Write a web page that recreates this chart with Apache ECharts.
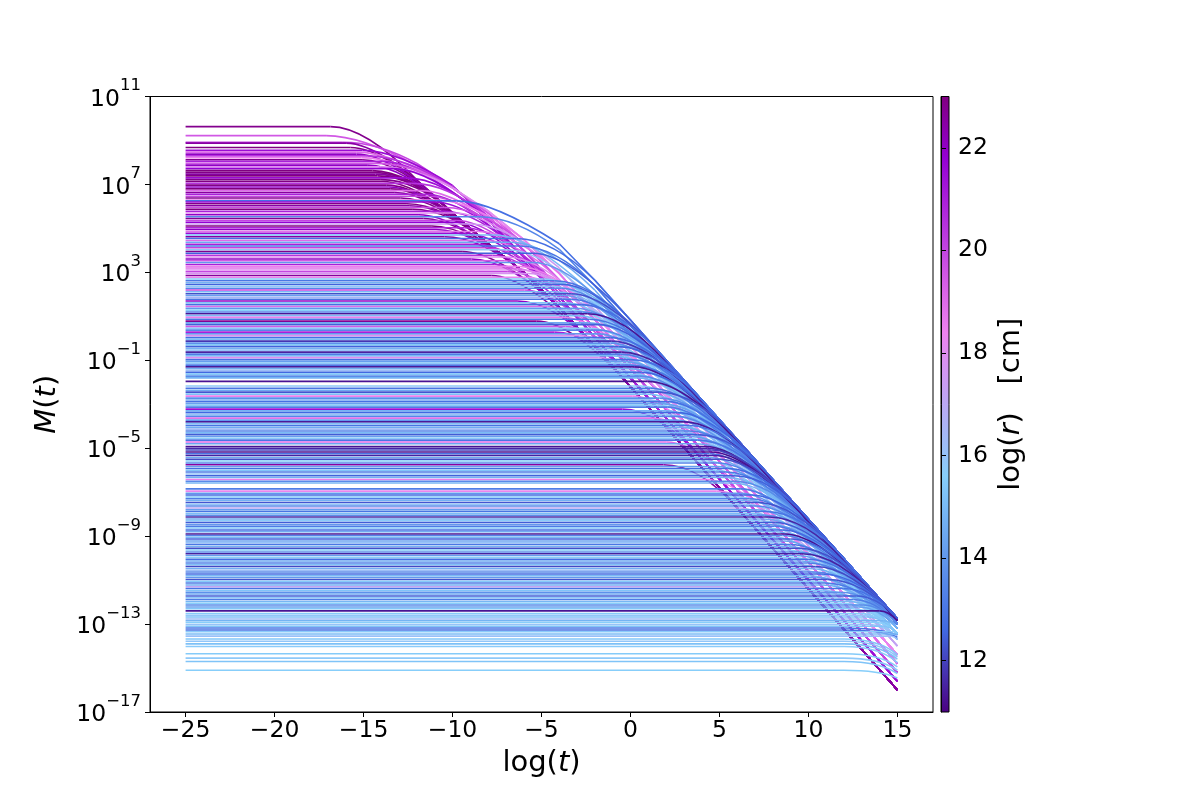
<!DOCTYPE html>
<html lang="en">

<head>
    <meta charset="UTF-8">
    <title>M(t) vs log(t)</title>
    <script src="https://cdn.jsdelivr.net/npm/echarts@6.0.0/dist/echarts.min.js"></script>
    <style>
        html, body { margin: 0; padding: 0; background: #fff; }
        #chart { width: 1200px; height: 800px; }
    </style>
</head>

<body>
    <div id="chart"></div>

    <script>
        // tick labels
        const xTicks = [-25, -20, -15, -10, -5, 0, 5, 10, 15];
        const yTicks = [-17, -13, -9, -5, -1, 3, 7, 11]; // log10 M
        const rTicks = [12, 14, 16, 18, 20, 22];

        const tStart = -25;
        const tEnd = 15;
        const tailStartX = 12;
        const tailBendX = 14;
        const kneeLead = 2; // longest stretch of plateau that is rounded off before a knee

        // decline tracks, one per unit of log(r), values are log10 M at trackX
        const trackX = [-16, -14, -12, -10, -8, -6, -4, -2, 0, 2, 4, 6, 8, 10, 12, 14, 15];
        const trackR11 = [9.1, 8.4, 7.7, 7.0, 6.3, 5.4, 4.2, 2.54, 0.73, -1.09, -2.9, -4.7, -6.52, -8.33, -10.13, -11.95, -12.85];
        const trackR12 = [9.2, 8.5, 7.8, 7.1, 6.35, 5.5, 4.3, 2.64, 0.83, -0.99, -2.8, -4.6, -6.42, -8.23, -10.03, -11.85, -12.75];
        const trackR13 = [9.05, 8.35, 7.65, 6.95, 6.2, 5.3, 4.05, 2.39, 0.58, -1.24, -3.05, -4.85, -6.67, -8.48, -10.28, -12.1, -13.0];
        const trackR14 = [8.95, 8.25, 7.55, 6.85, 6.1, 5.15, 3.9, 2.19, 0.38, -1.44, -3.25, -5.05, -6.87, -8.68, -10.48, -12.3, -13.2];
        const trackR15 = [8.85, 8.15, 7.45, 6.75, 5.95, 4.95, 3.65, 1.94, 0.13, -1.69, -3.5, -5.3, -7.12, -8.93, -10.73, -12.55, -13.45];
        const trackR16 = [8.8, 8.1, 7.4, 6.65, 5.8, 4.75, 3.4, 1.69, -0.12, -1.94, -3.75, -5.55, -7.37, -9.18, -10.98, -12.8, -13.7];
        const trackR17 = [8.9, 8.2, 7.5, 6.7, 5.8, 4.65, 3.2, 1.47, -0.35, -2.17, -3.99, -5.81, -7.63, -9.45, -11.27, -13.09, -14.0];
        const trackR18 = [9.4, 8.6, 7.75, 6.85, 5.8, 4.5, 2.95, 1.16, -0.68, -2.51, -4.34, -6.17, -8.0, -9.83, -11.66, -13.49, -14.4];
        const trackR19 = [9.6, 8.75, 7.85, 6.85, 5.7, 4.3, 2.65, 0.84, -1.0, -2.84, -4.68, -6.52, -8.36, -10.2, -12.04, -13.88, -14.8];
        const trackR20 = [9.7, 8.85, 7.95, 6.9, 5.55, 4.0, 2.25, 0.44, -1.4, -3.24, -5.08, -6.92, -8.76, -10.6, -12.44, -14.28, -15.2];
        const trackR21 = [9.8, 8.95, 8.1, 6.95, 5.4, 3.7, 1.88, 0.04, -1.8, -3.64, -5.48, -7.32, -9.16, -11.0, -12.84, -14.68, -15.6];
        const trackR22 = [10.6, 8.9, 7.2, 5.7, 4.3, 3.0, 1.4, -0.36, -2.2, -4.04, -5.88, -7.72, -9.56, -11.4, -13.24, -15.08, -16.0];
        const tracks = [trackR11, trackR12, trackR13, trackR14, trackR15, trackR16,
            trackR17, trackR18, trackR19, trackR20, trackR21, trackR22];

        // curves: [log10 M plateau, log r] (optional third value: log10 M at t = 1e15 for the low ones)
        const curvesUpper = [
            [9.63, 22.8], [9.22, 19.5], [8.92, 20], [8.88, 22.5], [8.68, 23],
            [8.55, 21.5], [8.47, 19], [8.38, 22], [8.3, 20.5], [8.22, 18.5], [8.12, 22.8], [8.05, 21], [7.96, 19.5],
            [7.88, 22], [7.8, 18], [7.72, 21.8], [7.63, 23],
            [7.55, 22.9], [7.47, 22.5], [7.39, 23], [7.3, 21.5], [7.22, 22.8], [7.13, 23], [7.05, 20.5], [6.97, 22.9],
            [6.88, 22], [6.8, 23], [6.72, 19], [6.63, 22.6], [6.55, 21],
            [6.46, 20], [6.38, 22.8], [6.29, 18.5], [6.25, 12.8], [6.2, 21.5], [6.12, 22.9], [6.03, 22.5], [5.95, 19.8],
            [5.87, 23], [5.78, 21], [5.7, 18], [5.62, 22],
            [5.53, 13.5], [5.45, 22.7], [5.36, 20], [5.28, 21.8], [5.2, 17.5], [5.11, 23], [5.03, 20.8], [4.95, 22],
            [4.86, 18.8], [4.78, 21.5],
            [4.7, 15], [4.62, 22.5], [4.54, 12.8], [4.45, 19], [4.37, 14.5], [4.28, 21], [4.2, 13], [4.12, 20],
            [4.03, 16], [3.95, 22.8], [3.87, 12.5],
            [3.78, 20.5], [3.7, 18], [3.61, 22], [3.53, 19.5], [3.45, 14], [3.36, 21], [3.28, 18.5], [3.2, 19],
            [3.11, 18], [3.03, 20], [2.95, 17.8], [2.86, 22.6], [2.78, 18.3]
        ];
        const curvesMiddle = [
            [2.7, 15.5], [2.62, 13], [2.53, 14.8], [2.45, 12.5], [2.37, 15.8], [2.28, 13.5], [2.2, 20], [2.12, 15],
            [2.03, 12.2], [1.95, 14.2], [1.87, 16.5], [1.78, 13], [1.7, 22], [1.62, 15.3], [1.53, 12.8], [1.45, 19],
            [1.37, 14], [1.28, 15.6], [1.2, 13.2], [1.12, 11.3],
            [1.03, 15], [0.95, 18.5], [0.87, 13], [0.78, 22.7], [0.7, 14.5], [0.62, 12.5], [0.53, 19.5], [0.45, 15.8],
            [0.37, 13.5], [0.28, 21], [0.2, 14], [0.12, 18], [0.03, 12.8], [-0.05, 15.2], [-0.13, 11.8],
            [-0.22, 13.8], [-0.3, 15.5], [-0.38, 12.5], [-0.47, 14.8], [-0.55, 16], [-0.63, 11.5], [-0.72, 13.2],
            [-0.8, 15], [-0.88, 18], [-0.97, 12.8], [-1.05, 14.2], [-1.13, 15.8], [-1.22, 13], [-1.3, 11.4],
            [-1.38, 14.6], [-1.47, 16.2], [-1.55, 12.6], [-1.63, 15.4], [-1.72, 13.6], [-1.8, 14.8], [-1.96, 11.3],
            [-2.17, 15.8], [-2.27, 13], [-2.36, 14.5], [-2.45, 12.3], [-2.54, 15.2], [-2.63, 18.5], [-2.72, 13.7],
            [-2.8, 16], [-2.88, 12.8], [-2.97, 14.3], [-3.05, 15.5], [-3.13, 13.2], [-3.22, 21.5], [-3.3, 14.8],
            [-3.38, 12.6], [-3.47, 15.9], [-3.55, 13.5], [-3.63, 18.8], [-3.72, 14], [-3.8, 11.4], [-3.88, 15.2],
            [-3.97, 12.9], [-4.05, 14.6], [-4.13, 16.3], [-4.22, 13.3], [-4.3, 15], [-4.38, 12.4], [-4.47, 14.2],
            [-4.55, 15.7], [-4.63, 13], [-4.72, 19], [-4.8, 14.4],
            [-4.92, 11.3], [-5.0, 11.6], [-5.08, 12], [-5.17, 11.2], [-5.25, 13], [-5.33, 11.5], [-5.42, 14.5],
            [-5.5, 12.2], [-5.58, 15.5], [-5.67, 13.4], [-5.75, 22.5], [-5.83, 14.2], [-5.92, 12.7], [-6.0, 15.3],
            [-6.08, 13.1], [-6.17, 16], [-6.25, 12.5], [-6.33, 14.8], [-6.42, 18.5], [-6.5, 13.6], [-6.58, 14.9],
            [-6.85, 13.2], [-6.95, 18.3]
        ];
        const curvesLower = [
            [-7.05, 14], [-7.13, 12.6], [-7.22, 15.4], [-7.3, 13.2], [-7.38, 14.7], [-7.47, 12.3], [-7.55, 15.9],
            [-7.63, 13.5], [-7.72, 17], [-7.8, 14.2], [-7.88, 12.9], [-7.97, 15.1], [-8.05, 13.7], [-8.13, 11.6],
            [-8.22, 14.5], [-8.3, 15.7], [-8.38, 12.4], [-8.47, 14], [-8.55, 13.1], [-8.63, 15.3], [-8.72, 12.7],
            [-8.8, 14.6], [-8.9, 11.2], [-8.97, 13.4], [-9.05, 15], [-9.13, 12.5], [-9.22, 14.3], [-9.3, 16],
            [-9.38, 13], [-9.47, 14.8], [-9.55, 12.2], [-9.63, 15.4], [-9.72, 13.6], [-9.8, 11.5], [-9.88, 14.1],
            [-9.97, 15.6], [-10.05, 12.8], [-10.13, 14.5], [-10.22, 13.3], [-10.3, 15.2], [-10.38, 12.1],
            [-10.47, 14.7], [-10.55, 16.2], [-10.63, 13.5], [-10.72, 12.6], [-10.8, 15], [-10.88, 14], [-10.97, 12.3],
            [-11.05, 15.5], [-11.13, 13.1], [-11.22, 14.6], [-11.3, 17.2], [-11.38, 12.9], [-11.47, 15.3],
            [-11.55, 13.8], [-11.63, 14.4], [-11.72, 12.4], [-11.8, 15.8], [-11.88, 13.2], [-11.97, 14.9],
            [-12.05, 15.6], [-12.13, 13.6], [-12.22, 14.2], [-12.3, 15.4], [-12.4, 11.3]
        ];
        const curvesTail = [
            [-12.52, 15.5], [-12.6, 15.9], [-12.68, 15.2], [-12.77, 16.2], [-12.85, 14.8], [-12.93, 15.6],
            [-13.02, 16], [-13.1, 15.3], [-13.18, 13, -13.5], [-13.27, 12.8, -13.6], [-13.35, 15.7], [-13.45, 15.1],
            [-13.55, 16.1, -14.2], [-13.68, 15.4, -14.4], [-13.78, 15.9, -14.5], [-13.9, 15.2, -14.6],
            [-14.02, 15.7, -14.75], [-14.35, 15.5, -14.95], [-14.55, 15.8, -15.1], [-14.7, 15.3, -15.25],
            [-15.1, 15.6, -15.45]
        ];

        // colour map of log(r)
        const cmapR = [11, 12.6, 15.6, 18.4, 21.8, 23];
        const cmapColors = ['#4b0082', '#4169e1', '#87cefa', '#ee82ee', '#9400d3', '#800080'];
        const rMin = 11, rMax = 23;

        const FONT = 'DejaVu Sans';
        const minus = v => (v < 0 ? '\u2212' + (-v) : String(v));

        function hexToRgb(h) {
            return [parseInt(h.slice(1, 3), 16), parseInt(h.slice(3, 5), 16), parseInt(h.slice(5, 7), 16)];
        }

        function colorOf(r) {
            r = Math.max(rMin, Math.min(rMax, r));
            for (let i = 1; i < cmapR.length; i++) {
                if (r <= cmapR[i]) {
                    const f = (r - cmapR[i - 1]) / (cmapR[i] - cmapR[i - 1]);
                    const a = hexToRgb(cmapColors[i - 1]);
                    const b = hexToRgb(cmapColors[i]);
                    return 'rgb(' + a.map((v, k) => Math.round(v + (b[k] - v) * f)).join(',') + ')';
                }
            }
            return cmapColors[cmapColors.length - 1];
        }

        function trackFor(r) {
            return tracks[Math.min(tracks.length - 1, Math.max(0, Math.floor(r) - 11))];
        }

        // plateau, a rounded knee where the plateau meets the track (corner used as control point), then the track
        function curveGeometry(c) {
            const m0 = c[0];
            const tr = trackFor(c[1]);
            let j = tr.findIndex(v => v < m0);
            if (j < 0) {
                if (c.length > 2) {
                    return { head: [[tStart, m0], [tailStartX, m0]], knee: [[tailStartX, m0], [tailBendX, m0], [tEnd, c[2]]], rest: [] };
                }
                return { head: [[tStart, m0], [tEnd, m0]], knee: null, rest: [] };
            }
            j = Math.max(j, 1);
            const f = Math.min(1, Math.max(0, (tr[j - 1] - m0) / (tr[j - 1] - tr[j])));
            const kx = trackX[j - 1] + f * (trackX[j] - trackX[j - 1]);
            const bi = Math.min(j + 1, trackX.length - 1);
            const ax = kx - Math.min(trackX[bi] - kx, kneeLead);
            const rest = [];
            for (let i = bi; i < trackX.length; i++) rest.push([trackX[i], tr[i]]);
            return {
                head: [[tStart, m0], [ax, m0]],
                knee: [[ax, m0], [kx, m0], [trackX[bi], tr[bi]]],
                rest: rest
            };
        }

        const allCurves = curvesUpper.concat(curvesMiddle, curvesLower, curvesTail);
        const geometry = allCurves.map(curveGeometry);

        function renderCurve(params, api) {
            const c = allCurves[params.dataIndex];
            const g = geometry[params.dataIndex];
            const style = { stroke: colorOf(c[1]), lineWidth: 1.6, fill: 'none' };
            const P = p => api.coord(p);
            const children = [{ type: 'polyline', shape: { points: g.head.map(P) }, style: style }];
            if (g.knee) {
                const a = P(g.knee[0]), k = P(g.knee[1]), b = P(g.knee[2]);
                children.push({
                    type: 'bezierCurve',
                    shape: { x1: a[0], y1: a[1], cpx1: k[0], cpy1: k[1], x2: b[0], y2: b[1] },
                    style: style
                });
            }
            if (g.rest.length > 1) {
                children.push({ type: 'polyline', shape: { points: g.rest.map(P) }, style: style });
            }
            return { type: 'group', children: children };
        }

        const barStops = cmapR.map((r, i) => ({ offset: (r - rMin) / (rMax - rMin), color: cmapColors[i] }));

        const tickStyle = { fontSize: 23.5, color: '#000', fontFamily: FONT };
        const nameStyle = {
            fontSize: 29, color: '#000', fontFamily: FONT,
            rich: { i: { fontSize: 29, color: '#000', fontFamily: FONT, fontStyle: 'italic' } }
        };

        let myChart = echarts.init(document.getElementById('chart'));
        let option = {
            animation: false,
            backgroundColor: '#fff',
            grid: [{
                left: 150, top: 96.5, width: 783, height: 615.5,
                show: true, borderColor: '#000', borderWidth: 1, backgroundColor: 'transparent'
            }, {
                left: 941, top: 96.5, width: 8, height: 615.5,
                show: true, borderColor: '#000', borderWidth: 1,
                backgroundColor: new echarts.graphic.LinearGradient(0, 1, 0, 0, barStops)
            }],
            xAxis: [{
                gridIndex: 0,
                type: 'value',
                min: -27,
                max: 17,
                splitLine: { show: false },
                axisLine: { show: true, onZero: false, lineStyle: { color: '#000', width: 1 } },
                axisTick: { show: true, length: 5, customValues: xTicks, lineStyle: { color: '#000', width: 1 } },
                axisLabel: Object.assign({ customValues: xTicks, formatter: minus, margin: 7 }, tickStyle),
                name: 'log({i|t})',
                nameLocation: 'middle',
                nameGap: 37,
                nameTextStyle: nameStyle
            }, {
                gridIndex: 1,
                type: 'value',
                min: 0,
                max: 1,
                show: false
            }],
            yAxis: [{
                gridIndex: 0,
                type: 'value',
                min: -17,
                max: 11,
                splitLine: { show: false },
                axisLine: { show: true, onZero: false, lineStyle: { color: '#000', width: 1 } },
                axisTick: { show: true, length: 5, customValues: yTicks, lineStyle: { color: '#000', width: 1 } },
                axisLabel: {
                    customValues: yTicks,
                    margin: 9,
                    formatter: v => '{b|10}{s|' + minus(v) + '}',
                    rich: {
                        b: { fontSize: 23.5, color: '#000', fontFamily: FONT, padding: [10, 0, 4, 0] },
                        s: { fontSize: 16.5, color: '#000', fontFamily: FONT, verticalAlign: 'top' }
                    }
                },
                name: '{i|M}({i|t})',
                nameLocation: 'middle',
                nameRotate: 90,
                nameGap: 88,
                nameTextStyle: nameStyle
            }, {
                gridIndex: 1,
                type: 'value',
                position: 'right',
                min: rMin,
                max: rMax,
                splitLine: { show: false },
                axisLine: { show: true, lineStyle: { color: '#000', width: 1 } },
                axisTick: { show: true, length: 5, customValues: rTicks, lineStyle: { color: '#000', width: 1 } },
                axisLabel: Object.assign({ customValues: rTicks, margin: 9 }, tickStyle),
                name: 'log({i|r})   [cm]',
                nameLocation: 'middle',
                nameRotate: 90,
                nameGap: 48,
                nameTextStyle: nameStyle
            }],
            series: [{
                type: 'custom',
                coordinateSystem: 'cartesian2d',
                xAxisIndex: 0,
                yAxisIndex: 0,
                silent: true,
                clip: true,
                data: allCurves.map(c => [tStart, c[0]]),
                renderItem: renderCurve
            }]
        };
        myChart.setOption(option);
    </script>

</body>

</html>
